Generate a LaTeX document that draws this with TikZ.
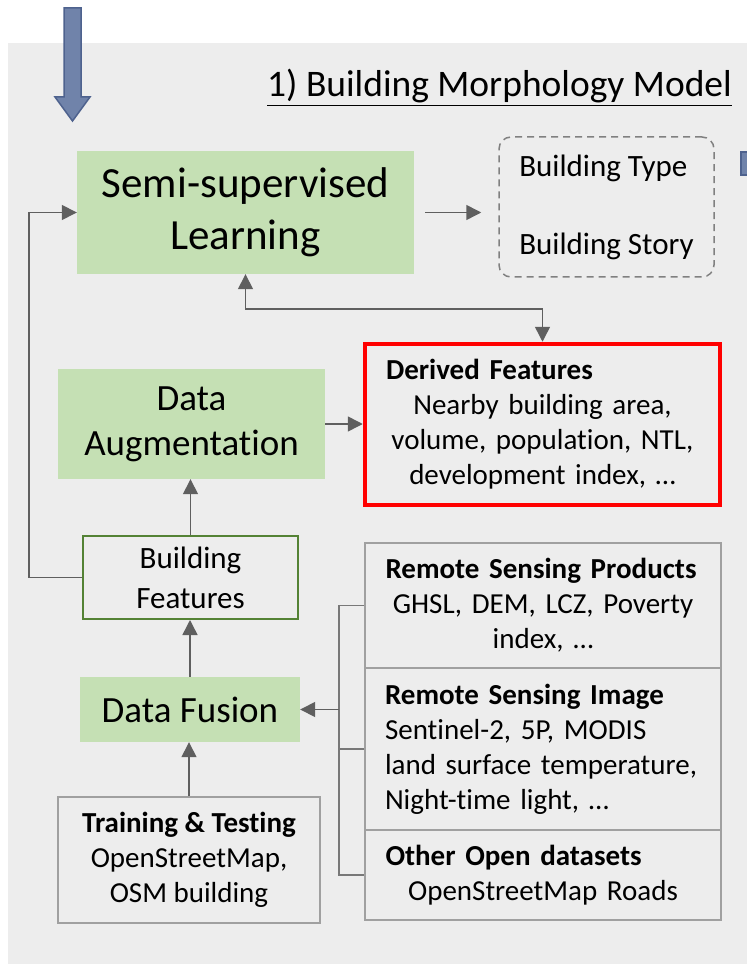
\documentclass[tikz,border=0pt]{standalone}
\usepackage{fontspec}
\setmainfont{Carlito}[Ligatures=NoCommon]
\usetikzlibrary{arrows.meta,calc}
\definecolor{bg}{RGB}{237,237,237}
\definecolor{gfill}{RGB}{197,224,180}
\definecolor{agray}{RGB}{95,95,95}
\definecolor{lgray}{RGB}{120,120,120}
\definecolor{bgray}{RGB}{160,160,160}
\definecolor{dgray}{RGB}{128,128,128}
\definecolor{bfgreen}{RGB}{84,130,53}
\definecolor{bfill}{RGB}{112,131,170}
\definecolor{bdraw}{RGB}{78,98,142}
\newcommand\hdr[1]{\makebox[\linewidth][l]{\bfseries #1}}
\begin{document}
\begin{tikzpicture}[x=1pt,y=-1pt,
  greenbox/.style={fill=gfill, draw=none, inner sep=0, align=center},
  graybox/.style={draw=bgray, line width=1.2pt, fill=bg, inner sep=0, align=center},
  txt/.style={font=\fontsize{29}{35}\selectfont},
  arr/.style={draw=agray, line width=1.5pt, -{Triangle[length=15pt,width=15pt]}},
  dbarr/.style={draw=agray, line width=1.5pt, {Triangle[length=15pt,width=15pt]}-{Triangle[length=15pt,width=15pt]}},
  ln/.style={draw=lgray, line width=1.5pt}
]
\useasboundingbox (0,0) rectangle (746,965);
% background
\fill[bg] (8,43) rectangle (760,964);
% big blue arrow
\draw[fill=bfill, draw=bdraw, line width=1.5pt, line join=miter]
  (64,8) -- (81,8) -- (81,97) -- (90,97) -- (72.5,121) -- (55,97) -- (64,97) -- cycle;
% small blue square at right edge
\draw[fill=bfill, draw=bdraw, line width=1.5pt] (741,152) rectangle (756,175);

% title
\node[anchor=base west, inner sep=0, font=\fontsize{37.5}{45}\selectfont] (title) at (267,97) {\underline{1) Building Morphology Model}};

% nodes
\node[greenbox, minimum width=337, minimum height=123, font=\fontsize{43}{52}\selectfont] (semi) at (245.5,212.5) {Semi-supervised\\Learning};
\node[draw=dgray, line width=1.5pt, dash pattern=on 7pt off 5pt, rounded corners=12pt, inner sep=0,
      minimum width=215, minimum height=140, align=left, font=\fontsize{31}{78}\selectfont] (out) at (606.5,207) {Building Type\\Building Story};
\node[greenbox, minimum width=267, minimum height=110, font=\fontsize{37}{45}\selectfont] (aug) at (191.5,424) {Data\\Augmentation};
\node[draw=red, line width=4.5pt, fill=bg, inner sep=0, minimum width=355, minimum height=161, text width=313, align=center, txt] (der) at (542.5,424.5)
  {\hdr{Derived Features}\\Nearby building area,\\volume, population, NTL,\\development index, …};
\node[draw=bfgreen, line width=2pt, inner sep=0, align=center, minimum width=215, minimum height=83, font=\fontsize{31}{40}\selectfont] (bf) at (190.5,577.5) {Building\\Features};
\node[greenbox, minimum width=220, minimum height=65, font=\fontsize{37}{45}\selectfont] (fus) at (190,709.5) {Data Fusion};
\node[graybox, minimum width=262, minimum height=126, txt] (train) at (189,860) {\textbf{Training \& Testing}\\OpenStreetMap,\\OSM building};
\node[graybox, minimum width=356, minimum height=125, text width=315, txt] (rsp) at (543,605.5)
  {\hdr{Remote Sensing Products}\\GHSL, DEM, LCZ, Poverty\\index, …};
\node[graybox, minimum width=356, minimum height=162, text width=316, align=left, txt] (rsi) at (543,749)
  {\textbf{Remote Sensing Image}\\Sentinel-2, 5P, MODIS\\land surface temperature,\\Night-time light, …};
\node[graybox, minimum width=356, minimum height=90, text width=315, txt] (oth) at (543,875)
  {\hdr{Other Open datasets}\\OpenStreetMap Roads};

% connectors
\draw[arr] ([xshift=11pt]semi.east) -- ([xshift=-17pt]semi.east -| out.west);
\draw[arr] (bf.west) -- ++(-53,0) |- (semi.west);
\draw[dbarr] (semi.south) -- ++(0,35) -| (der.north);
\draw[arr] (aug.east) -- (aug.east -| der.west);
\draw[arr] (bf.north) -- (aug.south -| bf.north);
\draw[arr] (fus.north) -- (bf.south -| fus.north);
\draw[arr] (train.north) -- (fus.south -| train.north);
\coordinate (br) at (339,709.5);
\draw[ln] (rsp.west) -- (rsp.west -| br) -- (oth.west -| br) -- (oth.west);
\draw[ln] (rsi.west) -- (rsi.west -| br);
\draw[arr] (br) -- (fus.east);
\end{tikzpicture}
\end{document}
